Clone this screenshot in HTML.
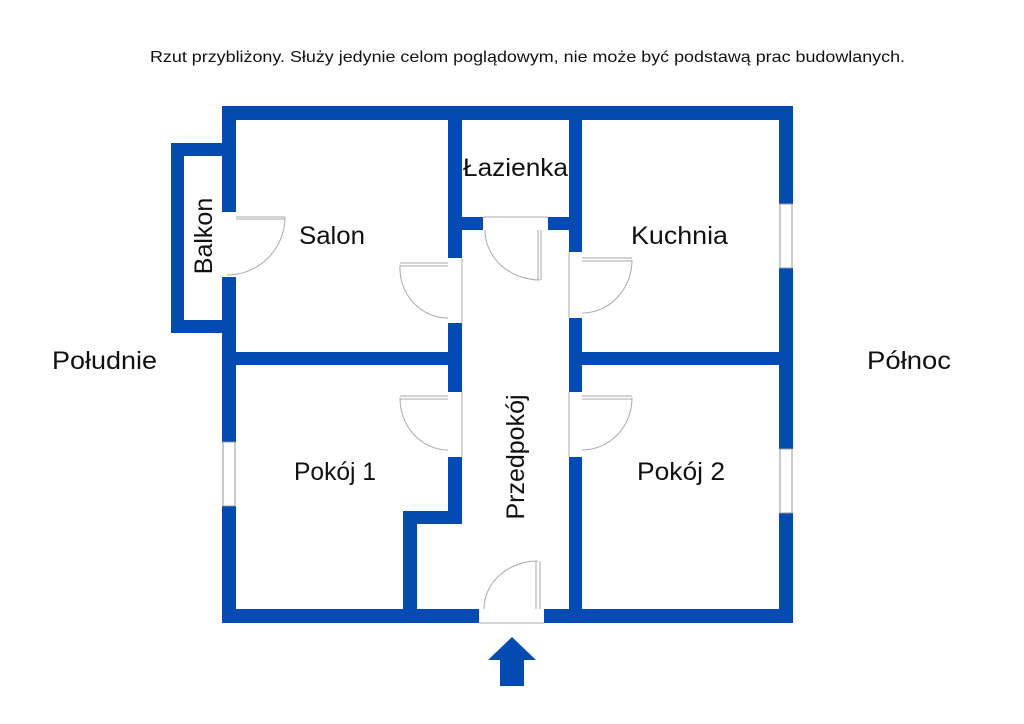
<!DOCTYPE html>
<html><head><meta charset="utf-8"><style>
body{margin:0;background:#fff;width:1024px;height:724px;overflow:hidden}
svg{display:block}
text{font-family:"Liberation Sans",sans-serif;fill:#111}
</style></head><body>
<svg width="1024" height="724" viewBox="0 0 1024 724">
<text x="150" y="62" font-size="16" textLength="755" lengthAdjust="spacingAndGlyphs">Rzut przybliżony. Służy jedynie celom poglądowym, nie może być podstawą prac budowlanych.</text>
<g fill="#034bb0">
<rect x="222" y="106" width="571" height="14"/>
<rect x="222" y="106" width="14" height="106"/>
<rect x="222" y="277" width="14" height="165"/>
<rect x="222" y="506" width="14" height="117"/>
<rect x="779" y="106" width="14" height="98"/>
<rect x="779" y="268" width="14" height="181"/>
<rect x="779" y="513" width="14" height="110"/>
<rect x="222" y="609" width="257" height="14"/>
<rect x="544" y="609" width="249" height="14"/>
<rect x="171" y="143" width="64" height="13"/>
<rect x="171" y="143" width="13" height="190"/>
<rect x="171" y="320" width="64" height="13"/>
<rect x="448" y="106" width="14" height="152"/>
<rect x="448" y="323" width="14" height="69"/>
<rect x="448" y="457" width="14" height="67"/>
<rect x="403" y="511" width="59" height="13"/>
<rect x="403" y="511" width="14" height="105"/>
<rect x="222" y="352" width="240" height="13"/>
<rect x="569" y="106" width="13" height="146"/>
<rect x="569" y="318" width="13" height="74"/>
<rect x="569" y="457" width="13" height="159"/>
<rect x="569" y="352" width="224" height="13"/>
<rect x="448" y="217" width="35" height="13"/>
<rect x="548" y="217" width="34" height="13"/>
<rect x="500" y="659" width="24" height="27"/>
<polygon points="488,660 512,637 536,660"/>
</g>
<g fill="#fff" stroke="#999" stroke-width="1">
<rect x="780" y="204" width="12" height="64"/>
<rect x="780" y="449" width="12" height="64"/>
<rect x="223" y="442" width="12" height="64"/>
</g>
<g fill="none" stroke="#aaa" stroke-width="1">
<path d="M236 217 H285 M236 219 H285 M285 217 A58 58 0 0 1 227 275"/>
<path d="M448 263 H400 M448 266 H400 M400 265 A48 50 0 0 0 448 318"/>
<path d="M538 230 V280 M541 230 V280 M485 230 A55 50 0 0 0 540 280"/>
<path d="M582 258 H632 M582 261 H632 M632 260 A50 53 0 0 1 582 313"/>
<path d="M448 396 H400 M448 399 H400 M400 398 A48 52 0 0 0 448 450"/>
<path d="M582 396 H632 M582 399 H632 M632 398 A50 52 0 0 1 582 450"/>
<path d="M536 561 V609 M540 561 V609 M484 609 A54 48 0 0 1 538 561"/>
<path d="M462 258 V323 M462 392 V457 M569 252 V318 M569 392 V457 M479 623 H544 M483 217 H548"/>
</g>
<g font-size="25">
<text x="52" y="369" textLength="105" lengthAdjust="spacingAndGlyphs">Południe</text>
<text x="867" y="369" textLength="84" lengthAdjust="spacingAndGlyphs">Północ</text>
<text x="299" y="244" textLength="66" lengthAdjust="spacingAndGlyphs">Salon</text>
<text x="463" y="176" textLength="105" lengthAdjust="spacingAndGlyphs">Łazienka</text>
<text x="631" y="244" textLength="97" lengthAdjust="spacingAndGlyphs">Kuchnia</text>
<text x="294" y="480" textLength="82" lengthAdjust="spacingAndGlyphs">Pokój 1</text>
<text x="637" y="480" textLength="88" lengthAdjust="spacingAndGlyphs">Pokój 2</text>
<text transform="translate(212,236) rotate(-90)" text-anchor="middle">Balkon</text>
<text transform="translate(524,457) rotate(-90)" text-anchor="middle">Przedpokój</text>
</g>
</svg>
</body></html>
